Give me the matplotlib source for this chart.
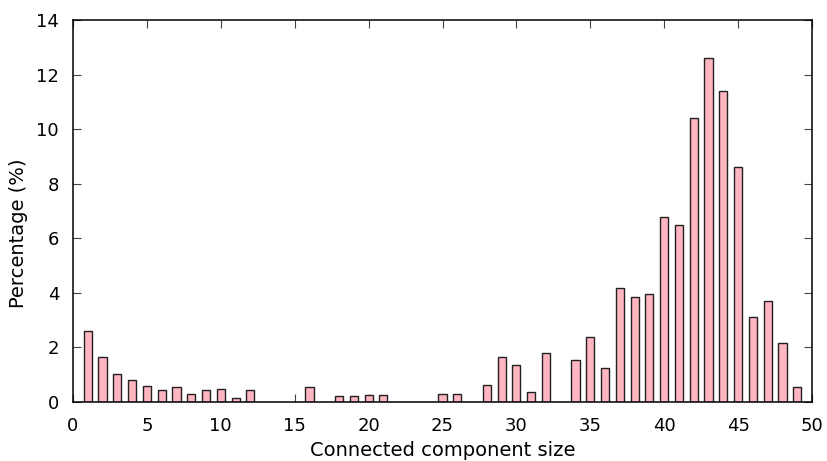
import matplotlib
matplotlib.use("Agg")
import matplotlib.pyplot as plt
import numpy as np

# component sizes 1..49 and their share in percent
sizes = np.arange(1, 50)
percent = [2.62, 1.65, 1.01, 0.82, 0.57, 0.43, 0.55, 0.28, 0.43, 0.46,
           0.13, 0.43, 0.0, 0.0, 0.0, 0.54, 0.0, 0.21, 0.21, 0.24,
           0.24, 0.0, 0.0, 0.0, 0.28, 0.30, 0.0, 0.63, 1.64, 1.36,
           0.35, 1.81, 0.0, 1.53, 2.37, 1.23, 4.16, 3.86, 3.96, 6.77,
           6.47, 10.41, 12.61, 11.40, 8.62, 3.11, 3.71, 2.17, 0.55]

fig = plt.figure(figsize=(8.27, 4.61), dpi=100)
ax = fig.add_axes([73/827, 1-402/461, (812-73)/827, (402-20)/461])

mask = np.array(percent) > 0
ax.bar(sizes[mask], np.array(percent)[mask], width=0.55, color='#ffb6c1',
       edgecolor='#202020', linewidth=1.0, zorder=3)

ax.set_xlim(0, 50)
ax.set_ylim(0, 14)
ax.set_xticks(range(0, 51, 5))
ax.set_yticks(range(0, 15, 2))
ax.tick_params(direction='in', top=True, right=True, length=6, width=0.8,
               color='#444444', labelsize=13)
ax.tick_params(axis='x', pad=11)
ax.tick_params(axis='y', pad=10)
for s in ax.spines.values():
    s.set_linewidth(1.1)
    s.set_zorder(4)

ax.set_xlabel('Connected component size', fontsize=14, labelpad=4)
ax.set_ylabel('Percentage (%)', fontsize=14, labelpad=6)
ax.yaxis.label.set_y(0.442)

fig.savefig('out.png', dpi=100)
